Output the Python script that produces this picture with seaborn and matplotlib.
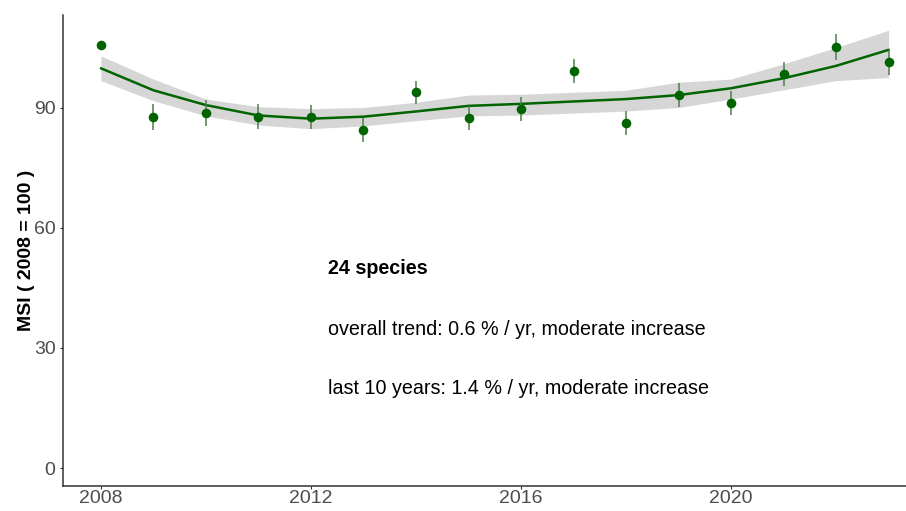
import matplotlib
matplotlib.use("Agg")
import matplotlib.pyplot as plt
import seaborn as sns
import pandas as pd

# Multi-species index per year (2008 = 100)
years = [2008, 2009, 2010, 2011, 2012, 2013, 2014, 2015,
         2016, 2017, 2018, 2019, 2020, 2021, 2022, 2023]
msi = [105.7, 87.75, 88.7, 87.75, 87.75, 84.5, 93.9, 87.4,
       89.75, 99.2, 86.1, 93.25, 91.25, 98.5, 105.25, 101.4]
msi_se = [0.0, 3.3, 3.2, 3.1, 3.0, 3.0, 2.9, 3.0,
          3.0, 3.0, 3.0, 3.0, 3.0, 3.0, 3.2, 3.1]

# Smoothed trend with confidence band
trend = [99.9, 94.4, 90.7, 88.1, 87.3, 87.8, 89.1, 90.5,
         91.0, 91.6, 92.2, 93.2, 94.9, 97.4, 100.5, 104.5]
trend_lo = [96.8, 91.8, 88.0, 85.7, 84.8, 85.5, 86.8, 88.0,
            88.2, 88.7, 89.2, 90.1, 92.2, 94.5, 96.8, 97.6]
trend_hi = [103.0, 97.2, 92.2, 90.3, 89.8, 90.1, 91.4, 93.2,
            93.4, 93.9, 94.4, 96.4, 97.2, 101.0, 105.1, 109.4]

species_label = "24 species"
overall_label = "overall trend: 0.6 % / yr, moderate increase"
recent_label = "last 10 years: 1.4 % / yr, moderate increase"

df = pd.DataFrame({"year": years, "msi": msi, "se": msi_se,
                   "trend": trend, "lo": trend_lo, "hi": trend_hi})

sns.set_theme(style="white")
plt.rcParams["font.family"] = ["Liberation Sans", "DejaVu Sans"]

fig = plt.figure(figsize=(9.06, 5.11), dpi=100)
ax = fig.add_axes([0.069, 0.048, 0.931, 0.923])

green = "#006400"

ax.fill_between(df["year"], df["lo"], df["hi"], color="#d6d6d6",
                linewidth=0, zorder=1)
sns.lineplot(data=df, x="year", y="trend", color=green, linewidth=1.8,
             ax=ax, zorder=2)

has_err = df["se"] > 0
ax.vlines(df.loc[has_err, "year"],
          df.loc[has_err, "msi"] - df.loc[has_err, "se"],
          df.loc[has_err, "msi"] + df.loc[has_err, "se"],
          color="#4d7f4d", linewidth=1.1, zorder=3)
sns.scatterplot(data=df, x="year", y="msi", color=green, s=48,
                edgecolor=green, linewidth=0, ax=ax, zorder=4)

text_size = 14.2
ax.text(2012.32, 49.75, species_label, fontsize=text_size, fontweight="bold",
        ha="left", va="center", color="black")
ax.text(2012.32, 34.5, overall_label, fontsize=text_size,
        ha="left", va="center", color="black")
ax.text(2012.32, 20.0, recent_label, fontsize=text_size,
        ha="left", va="center", color="black")

ax.set_xlim(2007.27, 2023.33)
ax.set_ylim(-4.6, 113.25)
ax.set_xticks([2008, 2012, 2016, 2020])
ax.set_yticks([0, 30, 60, 90])
ax.set_xlabel("")
ax.set_ylabel("MSI ( 2008 = 100 )", fontsize=14, fontweight="bold",
              color="black", labelpad=-1)

for side in ["top", "right"]:
    ax.spines[side].set_visible(False)
for side in ["left", "bottom"]:
    ax.spines[side].set_color("#333333")
    ax.spines[side].set_linewidth(1.1)

ax.tick_params(axis="both", which="both", direction="out", length=2.5,
               width=0.8, color="#333333", labelsize=14.0,
               labelcolor="#4d4d4d", left=True, bottom=True)
ax.tick_params(axis="x", pad=0.3)
ax.tick_params(axis="y", pad=2.5)

fig.savefig("out.png", dpi=100)
